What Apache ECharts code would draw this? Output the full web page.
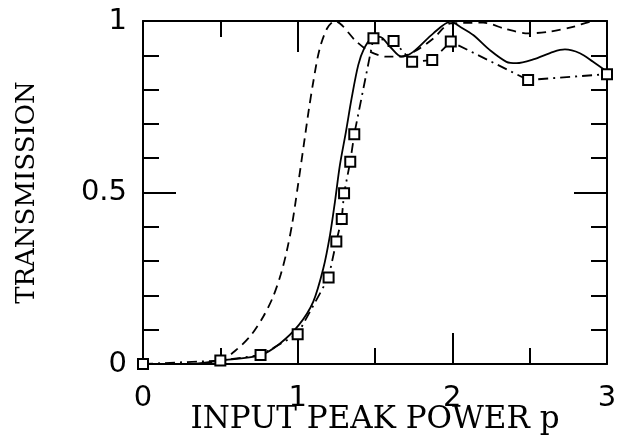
<!DOCTYPE html>
<html>
<head>
<meta charset="utf-8">
<script src="https://cdn.jsdelivr.net/npm/echarts@6/dist/echarts.min.js"></script>
<style>
html,body{margin:0;padding:0;background:#fff;}
#chart{width:628px;height:441px;}
</style>
</head>
<body>
<div id="chart"></div>
<script>
// Axis tick values
const xTickValues = [0, 1, 2, 3];
const yTickValues = [0, 0.5, 1];

// Dashed curve
const dashedX = [0, 0.3, 0.5, 0.6, 0.7, 0.78, 0.84, 0.89, 0.93, 0.965, 1.0, 1.04, 1.07, 1.10, 1.14, 1.19, 1.24, 1.38, 1.47, 1.575, 1.66, 1.77, 1.88, 1.99, 2.2, 2.35, 2.49, 2.63, 2.78, 2.93, 3.0];
const dashedY = [0, 0.0, 0.01, 0.04, 0.085, 0.14, 0.195, 0.26, 0.33, 0.41, 0.515, 0.64, 0.735, 0.82, 0.915, 0.978, 1.0, 0.94, 0.91, 0.896, 0.896, 0.915, 0.95, 0.993, 0.995, 0.976, 0.964, 0.969, 0.983, 1.0, 1.0];

// Solid curve
const solidX = [0, 0.3, 0.5, 0.76, 0.886, 1.008, 1.101, 1.166, 1.209, 1.241, 1.273, 1.312, 1.349, 1.392, 1.43, 1.478, 1.532, 1.597, 1.672, 1.747, 1.877, 1.99, 2.05, 2.135, 2.243, 2.35, 2.415, 2.523, 2.653, 2.728, 2.825, 2.91, 3.0];
const solidY = [0, 0.0, 0.01, 0.026, 0.06, 0.114, 0.182, 0.279, 0.376, 0.473, 0.58, 0.677, 0.775, 0.872, 0.92, 0.95, 0.954, 0.925, 0.896, 0.91, 0.964, 0.998, 0.983, 0.959, 0.915, 0.881, 0.877, 0.888, 0.91, 0.917, 0.906, 0.881, 0.852];

// Measured points (squares, dash-dot)
const measX = [0, 0.5, 0.76, 1.0, 1.2, 1.25, 1.285, 1.3, 1.34, 1.366, 1.49, 1.62, 1.74, 1.87, 1.99, 2.49, 3.0];
const measY = [0, 0.01, 0.026, 0.087, 0.252, 0.357, 0.423, 0.498, 0.59, 0.67, 0.95, 0.942, 0.881, 0.886, 0.94, 0.828, 0.845];

const zip = (xs, ys) => xs.map((x, i) => [x, ys[i]]);

const black = '#000';
const tickFont = 'DejaVu Sans';
const titleFont = 'DejaVu Serif';

function xAxisCfg(pos, showLabel) {
  return {
    type: 'value', position: pos, min: 0, max: 3, interval: 1,
    axisLine: { show: true, onZero: false, lineStyle: { color: black, width: 2 } },
    axisTick: { show: true, inside: true, length: 31, lineStyle: { color: black, width: 2 } },
    minorTick: { show: true, splitNumber: 2, length: 16, lineStyle: { color: black, width: 2 } },
    splitLine: { show: false }, minorSplitLine: { show: false },
    axisLabel: {
      show: showLabel, color: black, fontSize: 29, fontFamily: tickFont, margin: 20,
      formatter: v => xTickValues.includes(v) ? String(v) : ''
    },
    name: showLabel ? 'INPUT PEAK POWER p' : '',
    nameLocation: 'middle', nameGap: 40, nameMoveOverlap: false,
    nameTextStyle: { color: black, fontSize: 31, fontFamily: titleFont }
  };
}
function yAxisCfg(pos, showLabel) {
  return {
    type: 'value', position: pos, min: 0, max: 1, interval: 0.5,
    axisLine: { show: true, onZero: false, lineStyle: { color: black, width: 2 } },
    axisTick: { show: true, inside: true, length: 33, lineStyle: { color: black, width: 2 } },
    minorTick: { show: true, splitNumber: 5, length: 16, lineStyle: { color: black, width: 2 } },
    splitLine: { show: false }, minorSplitLine: { show: false },
    axisLabel: {
      show: showLabel, color: black, fontSize: 29, fontFamily: tickFont, margin: 16,
      formatter: v => yTickValues.includes(v) ? String(v) : ''
    },
    name: showLabel ? 'TRANSMISSION' : '',
    nameLocation: 'middle', nameGap: 103, nameRotate: 90, nameMoveOverlap: false,
    nameTextStyle: { color: black, fontSize: 26, fontFamily: titleFont }
  };
}

const chart = echarts.init(document.getElementById('chart'), null, { renderer: 'canvas' });
chart.setOption({
  animation: false,
  backgroundColor: '#fff',
  grid: { left: 143, right: 21, top: 21, bottom: 77, containLabel: false, outerBoundsMode: 'none' },
  xAxis: [xAxisCfg('bottom', true), xAxisCfg('top', false)],
  yAxis: [yAxisCfg('left', true), yAxisCfg('right', false)],
  series: [
    {
      type: 'line', name: 'dashed', data: zip(dashedX, dashedY), smooth: 0.3,
      showSymbol: false, clip: true,
      lineStyle: { color: black, width: 1.8, type: [9, 6] }
    },
    {
      type: 'line', name: 'solid', data: zip(solidX, solidY), smooth: 0.3,
      showSymbol: false, clip: true,
      lineStyle: { color: black, width: 1.8, type: 'solid' }
    },
    {
      type: 'line', name: 'measured', data: zip(measX, measY), smooth: false,
      symbol: 'rect', symbolSize: 10, clip: false,
      itemStyle: { color: '#fff', borderColor: black, borderWidth: 2 },
      lineStyle: { color: black, width: 1.8, type: [10, 5, 2, 5] }
    }
  ]
});
</script>
</body>
</html>
